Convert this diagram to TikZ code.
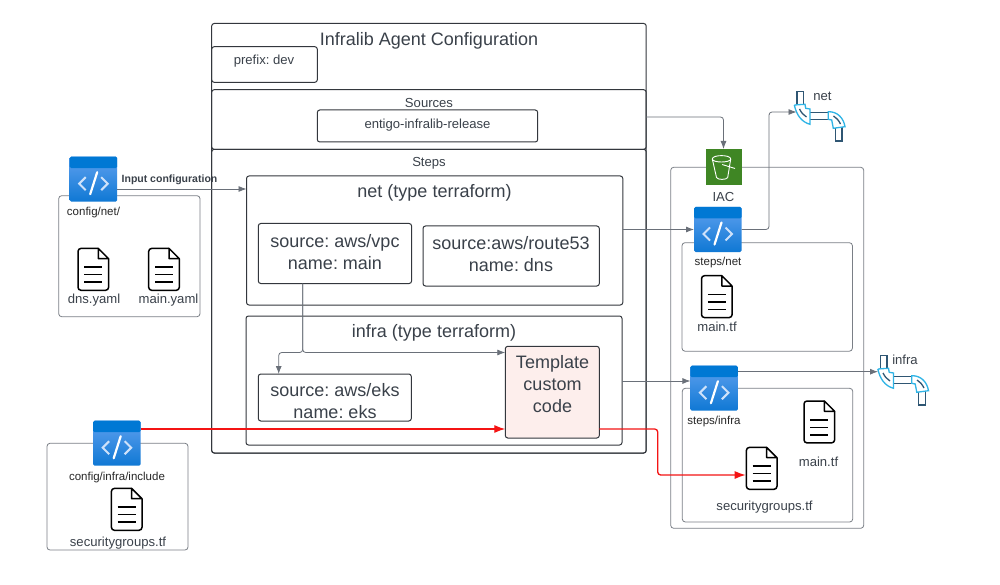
\documentclass[tikz,border=0pt]{standalone}
\usepackage{fontspec}
\setmainfont{Liberation Sans}
\frenchspacing
\usetikzlibrary{arrows.meta,positioning}
\definecolor{ink}{HTML}{3A414A}
\definecolor{dk}{HTML}{33373D}
\definecolor{gr}{HTML}{7A7F86}
\definecolor{conn}{HTML}{6A7079}
\definecolor{redl}{HTML}{F41414}
\definecolor{pink}{HTML}{FDEEEC}
\definecolor{bluetop}{HTML}{5EA0EF}
\definecolor{bluebot}{HTML}{0F78D4}
\definecolor{band}{HTML}{0078D4}
\definecolor{bucket}{HTML}{3F8624}
\definecolor{pipec}{HTML}{2FB4E6}
\definecolor{piped}{HTML}{2F5673}
\tikzset{
 x=1pt,y=-1pt,
 cont/.style={draw=dk,line width=1pt,rounded corners=2.5pt,anchor=north west,inner sep=0pt,outer sep=0pt,text=ink,align=center},
 lite/.style={draw=gr,line width=.8pt,rounded corners=3pt,anchor=north west,inner sep=0pt,outer sep=0pt},
 txt/.style={text=ink,inner sep=0pt,anchor=center,align=center},
 blk/.style={text=black!85,inner sep=0pt,anchor=center},
 big/.style={font=\fontsize{18}{22}\selectfont},
 small/.style={font=\fontsize{13.1}{15}\selectfont},
 tiny/.style={font=\fontsize{11.5}{13}\selectfont},
 wire/.style={draw=conn,line width=.8pt,rounded corners=3pt,-{Latex[length=8pt,width=6pt]}},
 redw/.style={draw=redl,line width=1.3pt,rounded corners=3pt,-{Latex[length=11pt,width=8pt]}},
}
\newcommand{\codeicon}[3]{%
 \node[anchor=north west,inner sep=0pt,outer sep=0pt,minimum width=47.5pt,minimum height=45pt,rounded corners=1.5pt,top color=bluetop,bottom color=bluebot] (#1) at (#2,#3) {};
 \begin{scope}[shift={(#2,#3)}]
  \fill[band,rounded corners=1.5pt] (0,0) rectangle (47.5,11.5);
  \draw[white!70!bluetop,line width=2pt] (16,20.5) -- (9.5,27) -- (16,33.5);
  \draw[white!70!bluetop,line width=2pt] (31.5,20.5) -- (38,27) -- (31.5,33.5);
  \draw[white,line width=2.2pt,line cap=round] (27.5,15.5) -- (20.5,37.5);
 \end{scope}}
\newcommand{\fileicon}[3]{%
 \node[anchor=north west,inner sep=0pt,outer sep=0pt,minimum width=32pt,minimum height=43.3pt] (#1) at (#2,#3) {};
 \begin{scope}[shift={(#2,#3)},line width=1.5pt,draw=black,line join=round]
  \draw[rounded corners=3pt] (21,.7) -- (.7,.7) -- (.7,42.6) -- (31.3,42.6) -- (31.3,11);
  \draw (21,.7) -- (31.3,11) -- (21,11) -- cycle;
  \draw (7,19.5) -- (25,19.5) (7,27) -- (25,27) (7,34.5) -- (25,34.5);
 \end{scope}}
\newcommand{\pipeicon}[3]{%
 \node[anchor=north west,inner sep=0pt,outer sep=0pt,minimum width=48pt,minimum height=50pt] (#1) at (#2,#3) {};
 \begin{scope}[shift={(#2,#3)},line width=1.3pt]
  \draw[piped] (.5,13) -- (.5,.5) -- (7,.5) -- (7,13);
  \draw[piped] (13.5,21.3) -- (32,21.3) (13.5,28.3) -- (32,28.3);
  \draw[piped] (38.7,37) -- (38.7,50) -- (45.5,50) -- (45.5,36);
  \draw[pipec] (-2.2,14) -- (8.5,13.3) -- (9.2,17.3) -- (13.5,18) -- (13.5,33.3) .. controls (5,31) and (0,24) .. (-2.2,14);
  \draw[pipec] (31.8,20.7) .. controls (41,20.5) and (47,27) .. (48.5,35.7) -- (36.8,37.3) -- (35.2,29) -- (31.8,28.3) -- cycle;
  \draw[piped] (3,18) .. controls (5,22) and (7,24) .. (10,26);
  \draw[piped] (37,25) .. controls (40,27) and (42,29) .. (44,33);
 \end{scope}}
\begin{document}
\begin{tikzpicture}
\useasboundingbox (0,0) rectangle (1000,585);
\fill[white] (0,0) rectangle (1000,585);
% y levels of the connectors
\coordinate (y112) at (0,112);
\coordinate (y117) at (0,117);
\coordinate (y189) at (0,189);
\coordinate (y229) at (0,229.5);
\coordinate (y352) at (0,352.5);
\coordinate (y372) at (0,371.7);
\coordinate (y381) at (0,381);
\coordinate (y429) at (0,429);
\coordinate (y475) at (0,475);
\coordinate (x278) at (278.7,0);
\coordinate (x302) at (302.7,0);
\coordinate (x723) at (723.5,0);
\coordinate (x769) at (769,0);
\coordinate (x658) at (657.7,0);
% main containers
\node[cont,minimum width=434.5pt,minimum height=429.5pt] (outer) at (211.7,23.5) {};
\node[cont,minimum width=434.5pt,minimum height=59.6pt] (sources) at (211.7,89.7) {};
\node[cont,minimum width=434.5pt,minimum height=303.7pt] (steps) at (211.7,149.3) {};
\node[cont,minimum width=105.6pt,minimum height=35.6pt] (prefix) at (211.7,46.7) {};
\node[cont,minimum width=220.4pt,minimum height=32pt] (release) at (317.3,110) {};
\node[cont,minimum width=376.3pt,minimum height=129pt] (net) at (246.5,176) {};
\node[cont,minimum width=376pt,minimum height=129pt] (infra) at (246,316) {};
\node[cont,minimum width=153.3pt,minimum height=60pt] (vpc) at (258.3,223.5) {};
\node[cont,minimum width=176.3pt,minimum height=60pt] (route) at (423,226) {};
\node[cont,minimum width=153pt,minimum height=47pt] (eks) at (258.3,374) {};
\node[cont,fill=pink,minimum width=94pt,minimum height=91.7pt] (tmpl) at (505.3,346.3) {};
% side containers
\node[lite,minimum width=141.3pt,minimum height=121pt] (cfgnet) at (58.7,195.7) {};
\node[lite,minimum width=141pt,minimum height=106.7pt] (cfginfra) at (47,443.3) {};
\node[lite,minimum width=193pt,minimum height=361pt] (iacbox) at (670.7,167.3) {};
\node[lite,minimum width=170.4pt,minimum height=108.5pt] (stepnet) at (682,242.7) {};
\node[lite,minimum width=170.4pt,minimum height=133.7pt] (stepinfra) at (682.3,388.3) {};
% texts
\node[txt,big] (t1) at (429,41) {Infralib Agent Configuration};
\node[txt,small] (t2) at (264,61.5) {prefix: dev};
\node[txt,small] (t3) at (429,103) {Sources};
\node[txt,small] (t4) at (427.5,125) {entigo-infralib-release};
\node[txt,small] (t5) at (429,163) {Steps};
\node[txt,big] (t6) at (434.5,193) {net (type terraform)};
\node[txt,big] (t7) at (434,333) {infra (type terraform)};
\node[txt,big] (t8) at (335,252.5) {source: aws/vpc\\name: main};
\node[txt,big] (t9) at (511,254.5) {source:aws/route53\\name: dns};
\node[txt,big] (t10) at (335,401.5) {source: aws/eks\\name: eks};
\node[txt,big] (t11) at (552.5,384) {Template\\custom\\code};
% icons
\codeicon{cfgneticon}{69.7}{156.7}
\codeicon{stepneticon}{694}{207}
\codeicon{stepinfraicon}{690.4}{365.7}
\codeicon{cfginfraicon}{93.2}{420.7}
\node[anchor=north west,inner sep=0pt,outer sep=0pt,fill=bucket,minimum width=36pt,minimum height=36.3pt] (bucketn) at (705.7,149) {};
\begin{scope}[shift={(705.7,149)},draw=white,line width=.9pt,line join=round]
 \draw (6.6,10) .. controls (6.6,5.5) and (25,5.5) .. (25,10) .. controls (25,14) and (6.6,14) .. (6.6,10);
 \draw (6.6,10) -- (10.8,28.5) .. controls (11.5,31) and (21,31) .. (22,28.5) -- (25,10);
 \draw (16.5,15.5) -- (29.3,19.5);
\end{scope}
\fileicon{fdns}{77.3}{247.7}
\fileicon{fmainy}{148}{247.7}
\fileicon{fnet}{700.8}{275}
\fileicon{fmaint}{803.3}{400.3}
\fileicon{fsg}{745.7}{446.7}
\fileicon{fcfg}{110.7}{487.7}
\pipeicon{pnet}{796.5}{91}
\pipeicon{pinfra}{880}{355}
% side labels
\node[blk,tiny] (l1) at (93.5,213) {config/net/};
\node[txt,small] (l2) at (94,300.5) {dns.yaml};
\node[txt,small] (l3) at (168.5,300.5) {main.yaml};
\node[blk,font=\bfseries\fontsize{10.5}{12}\selectfont,text=ink] (l4) at (169.5,179.5) {Input configuration};
\node[txt,small] (l5) at (723.5,197) {IAC};
\node[blk,tiny] (l6) at (718,263) {steps/net};
\node[txt,small] (l7) at (717,327) {main.tf};
\node[blk,tiny] (l8) at (714,422) {steps/infra};
\node[txt,small] (l9) at (818.5,461.5) {main.tf};
\node[txt,small] (l10) at (764.5,507) {securitygroups.tf};
\node[blk,tiny] (l11) at (117,477.5) {config/infra/include};
\node[txt,small] (l12) at (118,543) {securitygroups.tf};
\node[txt,small] (l13) at (822.5,96.5) {net};
\node[txt,small] (l14) at (905,360) {infra};
% connectors
\draw[wire] (cfgneticon.east |- y189) -- (net.west |- y189);
\draw[wire] (sources.east |- y117) -| (bucketn.north -| x723);
\draw[wire] (net.east |- y229) -- (stepneticon.west |- y229);
\draw[wire] (stepneticon.east |- y229) -| (x769 |- y112) -- (pnet.west |- y112);
\draw[wire] (stepinfraicon.east |- y372) -- ([xshift=-2pt]pinfra.west |- y372);
\draw[wire] (infra.east |- y381) -- (stepinfraicon.west |- y381);
\draw[wire] (vpc.south -| x302) -- (x302 |- y352) -- (tmpl.west |- y352);
\draw[wire] (vpc.south -| x302) -- (x302 |- y352) -| (eks.north -| x278);
\draw[redw] (cfginfraicon.east |- y429) -- (tmpl.west |- y429);
\draw[redw] (tmpl.east |- y429) -| (x658 |- y475) -- (fsg.west |- y475);
\end{tikzpicture}
\end{document}
